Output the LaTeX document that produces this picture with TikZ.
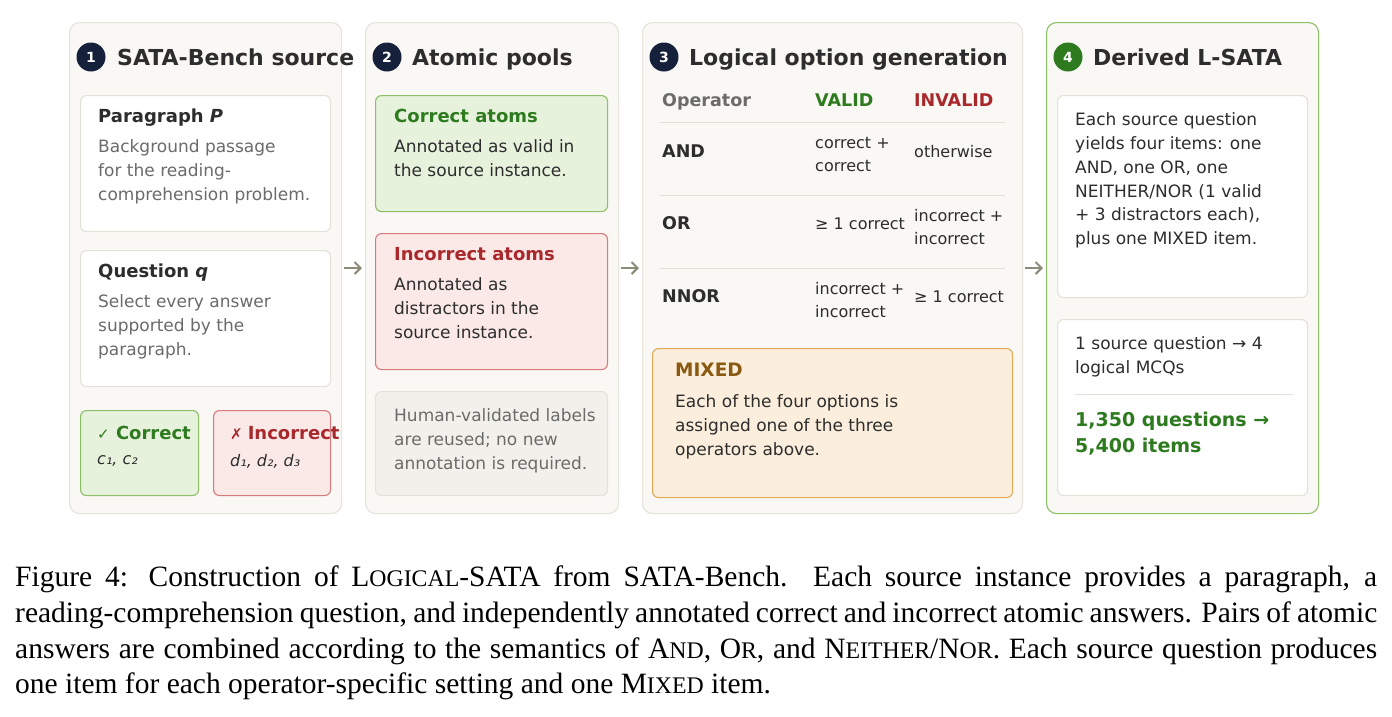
\documentclass[tikz,border=0pt]{standalone}
\usepackage{fontspec}
\setmainfont{DejaVu Sans}
\newfontfamily\capfont{Liberation Serif}
\usetikzlibrary{arrows.meta,positioning}
\definecolor{panelfill}{HTML}{F9F8F4}
\definecolor{panelline}{HTML}{E6E3DB}
\definecolor{cardline}{HTML}{E4E1D9}
\definecolor{ink}{HTML}{2D2D2D}
\definecolor{muted}{HTML}{6B6B6B}
\definecolor{navy}{HTML}{15213B}
\definecolor{good}{HTML}{2E7A1F}
\definecolor{goodfill}{HTML}{E7F2DC}
\definecolor{goodline}{HTML}{8DBE68}
\definecolor{bad}{HTML}{A8282C}
\definecolor{badfill}{HTML}{FBE9E8}
\definecolor{badline}{HTML}{D8797C}
\definecolor{notefill}{HTML}{F2F0EA}
\definecolor{mix}{HTML}{8A5A12}
\definecolor{mixfill}{HTML}{FCEEDC}
\definecolor{mixline}{HTML}{E2A957}
\definecolor{arrowc}{HTML}{8A8B78}
\definecolor{rulec}{HTML}{E2DFD7}
\tikzstyle{panel}=[
	rectangle,
	rounded corners=10,
	draw=panelline,
	fill=panelfill,
	line width=1.1,
	anchor=north west,
	inner sep=0]
\tikzstyle{card}=[
	rectangle,
	rounded corners=6,
	draw=cardline,
	fill=white,
	line width=1.1,
	anchor=north west,
	inner sep=0]
\tikzstyle{goodcard}=[card,draw=goodline,fill=goodfill]
\tikzstyle{badcard}=[card,draw=badline,fill=badfill]
\tikzstyle{notecard}=[card,fill=notefill]
\tikzstyle{mixcard}=[card,draw=mixline,fill=mixfill]
\tikzstyle{badge}=[
	circle,
	fill=navy,
	text=white,
	minimum size=29,
	inner sep=0,
	font=\bfseries\fontsize{14}{14}\selectfont]
\tikzstyle{heading}=[anchor=base west,inner sep=0,text=ink,font=\bfseries\fontsize{22}{24}\selectfont]
\tikzstyle{cardtitle}=[anchor=base west,inner sep=0,text=ink,font=\bfseries\fontsize{18}{22}\selectfont]
\tikzstyle{body}=[anchor=north west,inner sep=0,align=left,text=ink,font=\fontsize{17}{23.8}\selectfont]
\tikzstyle{mutedbody}=[body,text=muted]
\tikzstyle{cell}=[anchor=west,inner sep=0,align=left,text=ink,font=\fontsize{16}{23}\selectfont]
\tikzstyle{colhead}=[anchor=base west,inner sep=0,font=\bfseries\fontsize{17.5}{20}\selectfont]
\tikzstyle{flow}=[-{Straight Barb[length=6,width=12]},draw=arrowc,line width=2,shorten <=2,shorten >=3]
\newcommand\fsc[1]{{\fontsize{23.8}{35.6}\selectfont #1}}
\begin{document}
\begin{tikzpicture}[x=1pt,y=-1pt]
\useasboundingbox (0,0) rectangle (1392,716);
% panels
\node[panel,minimum width=272,minimum height=491] (src) at (69,22) {};
\node[panel,minimum width=253,minimum height=491] (pools) at (365,22) {};
\node[panel,minimum width=380,minimum height=491] (gen) at (642,22) {};
\node[panel,draw=goodline,minimum width=272,minimum height=491] (derived) at (1046,22) {};
\draw[flow] (src) -- (pools);
\draw[flow] (pools) -- (gen);
\draw[flow] (gen) -- (derived);
% headings
\node[badge] (b1) at (91,57) {1};
\node[heading] (h1) at (117,65) {SATA-Bench source};
\node[badge] (b2) at (387,57) {2};
\node[heading] (h2) at (412,65) {Atomic pools};
\node[badge] (b3) at (664,57) {3};
\node[heading] (h3) at (689,65) {Logical option generation};
\node[badge,fill=good] (b4) at (1068,57) {4};
\node[heading] (h4) at (1093,65) {Derived L-SATA};
% 1: source
\node[card,minimum width=250,minimum height=136] (para) at (80,95) {};
\node[cardtitle] (paratitle) at (98,122.5) {Paragraph \textit{P}};
\node[mutedbody] (paratext) at (98,139.5) {Background passage\\for the reading-\\comprehension problem.};
\node[card,minimum width=250,minimum height=136] (quest) at (80,250) {};
\node[cardtitle] (questtitle) at (98,277.5) {Question \textit{q}};
\node[mutedbody] (questtext) at (98,294.5) {Select every answer\\supported by the\\paragraph.};
\node[goodcard,minimum width=118,minimum height=85] (corr) at (80,410) {};
\node[cardtitle,text=good] (corrtitle) at (97,439.5) {{\mdseries\fontsize{15}{15}\selectfont ✓} Correct};
\node[cell,font=\itshape\fontsize{16}{20}\selectfont] (corrset) at (97,461) {c₁, c₂};
\node[badcard,minimum width=117,minimum height=85] (incorr) at (213,410) {};
\node[cardtitle,text=bad] (incorrtitle) at (230,439.5) {{\mdseries\fontsize{15}{15}\selectfont ✗}\hspace{5pt}Incorrect};
\node[cell,font=\itshape\fontsize{16}{20}\selectfont] (incorrset) at (230,461) {d₁, d₂, d₃};
% 2: pools
\node[goodcard,minimum width=232,minimum height=116] (goodpool) at (375,95) {};
\node[cardtitle,text=good] (goodtitle) at (394,122.5) {Correct atoms};
\node[body] (goodtext) at (394,139.5) {Annotated as valid in\\the source instance.};
\node[badcard,minimum width=232,minimum height=136] (badpool) at (375,233) {};
\node[cardtitle,text=bad] (badtitle) at (394,260.5) {Incorrect atoms};
\node[body] (badtext) at (394,277.5) {Annotated as\\distractors in the\\source instance.};
\node[notecard,minimum width=232,minimum height=104] (note) at (375,391) {};
\node[mutedbody] (notetext) at (394,408.5) {Human-validated labels\\are reused; no new\\annotation is required.};
% 3: operators
\node[colhead,text=muted] (ophead) at (662,106.5) {Operator};
\node[colhead,text=good] (validhead) at (815,106.5) {VALID};
\node[colhead,text=bad] (invalidhead) at (914,106.5) {INVALID};
\draw[rulec,line width=1] (660,122) -- (1005,122);
\node[colhead,text=ink] (andop) at (662,157.5) {AND};
\node[cell] (andvalid) at (815,154.5) {correct +\\correct};
\node[cell] (andinvalid) at (914,152) {otherwise};
\draw[rulec,line width=1] (660,195) -- (1005,195);
\node[colhead,text=ink] (orop) at (662,229.5) {OR};
\node[cell] (orvalid) at (815,224) {≥ 1 correct};
\node[cell] (orinvalid) at (914,227.5) {incorrect +\\incorrect};
\draw[rulec,line width=1] (660,268) -- (1005,268);
\node[colhead,text=ink] (nnorop) at (662,302.5) {NNOR};
\node[cell] (nnorvalid) at (815,300.5) {incorrect +\\incorrect};
\node[cell] (nnorinvalid) at (914,297) {≥ 1 correct};
\node[mixcard,minimum width=360,minimum height=149] (mixed) at (652,348) {};
\node[cardtitle,text=mix,font=\bfseries\fontsize{18.5}{22}\selectfont] (mixtitle) at (675,376.5) {MIXED};
\node[body] (mixtext) at (675,394.5) {Each of the four options is\\assigned one of the three\\operators above.};
% 4: derived
\node[card,minimum width=250,minimum height=202] (yield) at (1057,95) {};
\node[body] (yieldtext) at (1075,112.5) {Each source question\\yields four items: one\\AND, one OR, one\\NEITHER/NOR (1 valid\\+ 3 distractors each),\\plus one MIXED item.};
\node[card,minimum width=250,minimum height=176] (count) at (1057,319) {};
\node[body] (counttext) at (1075,336.5) {1 source question → 4\\logical MCQs};
\draw[rulec,line width=1] (1075,394) -- (1293,394);
\node[body,text=good,font=\bfseries\fontsize{19}{26}\selectfont] (total) at (1075,411.5) {1,350 questions →\\5,400 items};
% caption
\node[anchor=north west,inner sep=0,text width=1362,align=justify,font=\capfont\fontsize{29.5}{35.6}\selectfont] (caption) at (15,566) {Figure 4: Construction of L\fsc{OGICAL}-SATA from SATA-Bench.\ \ Each source instance provides a paragraph, a\linebreak reading-comprehension question, and independently annotated correct and incorrect atomic answers. Pairs of atomic\linebreak answers are combined according to the semantics of A\fsc{ND}, O\fsc{R}, and N\fsc{EITHER}/N\fsc{OR}. Each source question produces\linebreak one item for each operator-specific setting and one M\fsc{IXED} item.};
\end{tikzpicture}
\end{document}
